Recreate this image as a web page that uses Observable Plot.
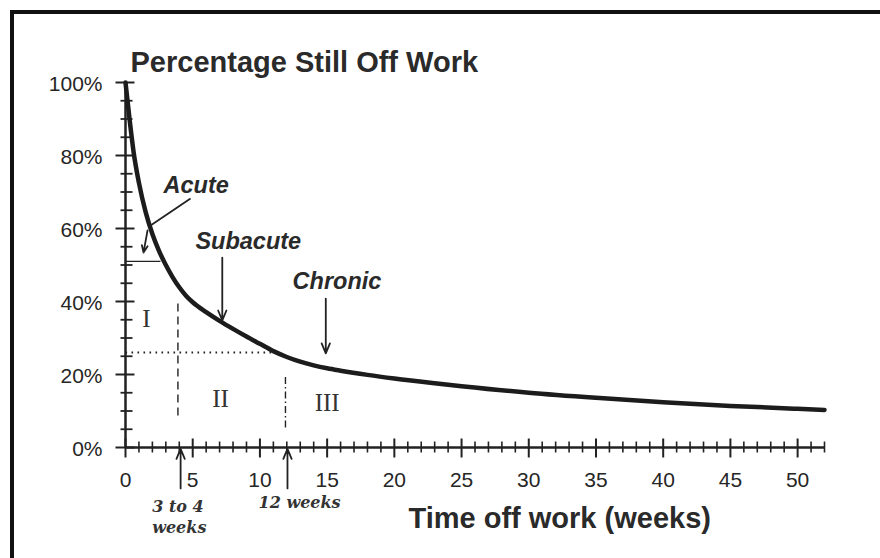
<!DOCTYPE html>
<html>
<head>
<meta charset="utf-8">
<script src="https://cdn.jsdelivr.net/npm/d3@7"></script>
<script src="https://cdn.jsdelivr.net/npm/@observablehq/plot@0.6"></script>
<style>
  html, body { margin: 0; padding: 0; background: #fff; overflow: hidden; }
  #wrap { position: relative; width: 880px; height: 558px; }
  #frame { position: absolute; left: 10px; top: 10px; right: -10px; bottom: -10px;
           border-top: 4px solid #111; border-left: 4px solid #111; pointer-events: none; }
</style>
</head>
<body>
<div id="wrap"><div id="frame"></div></div>
<script>
// ---- data ----
const weeks  = [0, 0.3, 0.6, 1, 1.5, 2, 2.5, 3, 3.5, 4, 4.5, 5, 6, 7, 8, 9, 10, 11, 12, 13, 14, 15, 16, 18, 20, 23, 25, 30, 35, 40, 45, 50, 52];
const pctOff = [100, 90, 81, 72.5, 64.5, 58.5, 53.8, 50.0, 46.7, 43.9, 41.6, 39.8, 37.1, 34.7, 32.5, 30.4, 28.4, 26.4, 24.8, 23.5, 22.5, 21.7, 21.05, 19.9, 18.9, 17.6, 16.8, 15.0, 13.6, 12.4, 11.4, 10.6, 10.3];

const xMajor = [0, 5, 10, 15, 20, 25, 30, 35, 40, 45, 50];
const xMinor = d3.range(0, 53).filter(d => d % 5 !== 0);
const yMajor = [0, 20, 40, 60, 80, 100];
const yMinor = [5, 10, 15, 25, 30, 35, 45, 50, 55, 65, 70, 75, 85, 90, 95];

const title = "Percentage Still Off Work";
const xTitle = "Time off work (weeks)";

const phaseLabels = [
  {x: 2.83, y: 69.6, text: "Acute"},
  {x: 5.2,  y: 54.5, text: "Subacute"},
  {x: 12.43, y: 43.3, text: "Chronic"}
];
const romanLabels = [
  {x: 1.56, y: 35.3, text: "I"},
  {x: 7.07, y: 13.2, text: "II"},
  {x: 15.0, y: 12.3, text: "III"}
];
const bottomNotes = [
  {x: 3.9,  y: -17.8, text: "3 to 4"},
  {x: 4.0,  y: -23.3, text: "weeks"},
  {x: 12.95, y: -16.7, text: "12 weeks"}
];
const arrows = [
  {x1: 1.64, y1: 59.5, x2: 1.34, y2: 53.4},   // Acute
  {x1: 7.2,  y1: 52.0, x2: 7.2,  y2: 34.8},   // Subacute
  {x1: 14.9, y1: 40.8, x2: 14.9, y2: 25.8},   // Chronic
  {x1: 4.1,  y1: -11.2, x2: 4.1,  y2: -0.4},  // 3 to 4 weeks
  {x1: 12.05, y1: -11.2, x2: 12.05, y2: -0.4} // 12 weeks
];
const acuteLeader = [{x1: 4.84, y1: 68.2, x2: 1.86, y2: 60.8}];
const solidGuide  = [{y: 51, x1: 0, x2: 2.6}];
const dottedGuide = [{y: 26, x1: 0, x2: 11.5}];
const dashedGuide = [{x: 3.9, y1: 8.8, y2: 39.5}];
const dashDotGuide = [{x: 11.9, y1: 5.5, y2: 19.7}];

const curve = weeks.map((w, i) => ({week: w, pct: pctOff[i]}));

// ---- tick symbols ----
const ink = "#222";
const hTick = (l, r) => ({draw(ctx) { ctx.moveTo(-l, 0); ctx.lineTo(r, 0); }});
const vTick = (u, d) => ({draw(ctx) { ctx.moveTo(0, -u); ctx.lineTo(0, d); }});

const sans = "'Liberation Sans', Arial, Helvetica, sans-serif";

const chart = Plot.plot({
  width: 880, height: 558,
  marginLeft: 125, marginRight: 56, marginTop: 82, marginBottom: 111,
  x: {domain: [0, 52], axis: null},
  y: {domain: [0, 100], axis: null},
  style: {fontFamily: sans, background: "transparent", color: ink},
  marks: [
    // axis lines
    Plot.ruleX([0], {y1: 0, y2: 100, stroke: ink, strokeWidth: 2.5}),
    Plot.ruleY([0], {x1: 0, x2: 52, stroke: ink, strokeWidth: 2.5}),
    // y ticks
    Plot.dot(yMajor, {y: d => d, frameAnchor: "left", symbol: hTick(10, 9), r: 5, stroke: ink, strokeWidth: 2, fill: "none"}),
    Plot.dot(yMinor, {y: d => d, frameAnchor: "left", symbol: hTick(5, 7), r: 5, stroke: ink, strokeWidth: 1.8, fill: "none"}),
    // x ticks
    Plot.dot(xMajor, {x: d => d, frameAnchor: "bottom", symbol: vTick(9, 10), r: 5, stroke: ink, strokeWidth: 2, fill: "none"}),
    Plot.dot(xMinor, {x: d => d, frameAnchor: "bottom", symbol: vTick(6, 5), r: 5, stroke: ink, strokeWidth: 1.6, fill: "none"}),
    // tick labels
    Plot.text(yMajor, {y: d => d, text: d => d + "%", frameAnchor: "left", textAnchor: "end", lineAnchor: "middle", dx: -23, dy: 2, fontSize: 21, fill: "#262626"}),
    Plot.text(xMajor, {x: d => d, text: d => String(d), frameAnchor: "bottom", lineAnchor: "middle", dy: 33, fontSize: 21, fill: "#262626"}),
    // titles
    Plot.text([title], {text: d => d, frameAnchor: "top-left", textAnchor: "start", lineAnchor: "bottom", dx: 5, dy: -11, fontSize: 29, fontWeight: "bold", fill: "#2a2a2a"}),
    Plot.text([xTitle], {text: d => d, frameAnchor: "bottom-left", textAnchor: "start", lineAnchor: "bottom", dx: 283, dy: 80, fontSize: 29, fontWeight: "bold", fill: "#2a2a2a"}),
    // guides
    Plot.link(solidGuide, {x1: "x1", x2: "x2", y1: "y", y2: "y", stroke: ink, strokeWidth: 1.3}),
    Plot.link(dottedGuide, {x1: "x1", x2: "x2", y1: "y", y2: "y", stroke: ink, strokeWidth: 2, strokeDasharray: "1.6,4.4"}),
    Plot.link(dashedGuide, {x1: "x", x2: "x", y1: "y1", y2: "y2", stroke: ink, strokeWidth: 1.4, strokeDasharray: "8,5"}),
    Plot.link(dashDotGuide, {x1: "x", x2: "x", y1: "y1", y2: "y2", stroke: ink, strokeWidth: 1.4, strokeDasharray: "7,3,1.5,3"}),
    // survival curve
    Plot.line(curve, {x: "week", y: "pct", curve: "monotone-x", stroke: "#1c1c1c", strokeWidth: 4.5}),
    // annotation arrows
    Plot.link(acuteLeader, {x1: "x1", y1: "y1", x2: "x2", y2: "y2", stroke: ink, strokeWidth: 1.8}),
    Plot.arrow(arrows, {x1: "x1", y1: "y1", x2: "x2", y2: "y2", stroke: ink, strokeWidth: 1.8, headLength: 9, headAngle: 45}),
    // labels
    Plot.text(phaseLabels, {x: "x", y: "y", text: "text", textAnchor: "start", lineAnchor: "bottom", fontSize: 23.5, fontWeight: "bold", fontStyle: "italic", fill: "#2a2a2a"}),
    Plot.text(romanLabels, {x: "x", y: "y", text: "text", lineAnchor: "middle", fontSize: 25, fontFamily: "'Liberation Serif', 'Times New Roman', serif", fill: "#333"}),
    Plot.text(bottomNotes, {x: "x", y: "y", text: "text", lineAnchor: "bottom", fontSize: 16, fontWeight: "bold", fontStyle: "italic", fontFamily: "'DejaVu Serif', serif", fill: "#333"})
  ]
});

document.getElementById("wrap").prepend(chart);
</script>
</body>
</html>
